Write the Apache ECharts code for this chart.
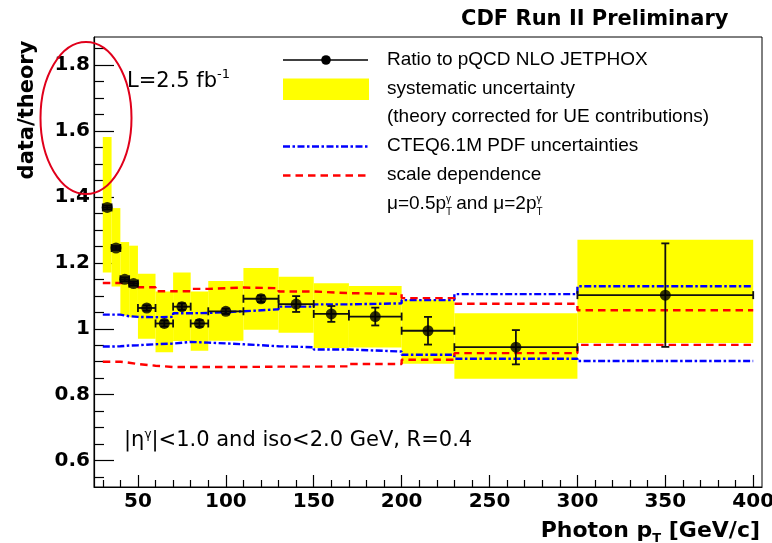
<!DOCTYPE html>
<html>
<head>
<meta charset="utf-8">
<script src="https://cdn.jsdelivr.net/npm/echarts@6.0.0/dist/echarts.min.js"></script>
<style>
  html, body { margin: 0; padding: 0; background: #fff; }
  #chart { width: 772px; height: 543px; }
</style>
</head>
<body>
<div id="chart"></div>
<script>
// Photon pT bins [GeV/c]
const binLo = [30, 35, 40, 45, 50, 60, 70, 80, 90, 110, 130, 150, 170, 200, 230, 300];
const binHi = [35, 40, 45, 50, 60, 70, 80, 90, 110, 130, 150, 170, 200, 230, 300, 400];

// data / theory ratio and its statistical uncertainty
const ratio   = [1.368, 1.245, 1.150, 1.137, 1.063, 1.016, 1.067, 1.016, 1.053, 1.091, 1.075, 1.045, 1.037, 0.994, 0.944, 1.102];
const statErr = [0.006, 0.006, 0.006, 0.006, 0.008, 0.009, 0.010, 0.010, 0.008, 0.010, 0.024, 0.024, 0.027, 0.042, 0.052, 0.157];

// systematic uncertainty band (lower / upper edge)
const sysLo = [1.171, 1.128, 1.040, 1.035, 0.970, 0.929, 0.963, 0.933, 0.964, 0.997, 0.988, 0.942, 0.943, 0.894, 0.848, 0.957];
const sysHi = [1.582, 1.366, 1.263, 1.252, 1.167, 1.113, 1.171, 1.113, 1.145, 1.184, 1.158, 1.138, 1.130, 1.088, 1.047, 1.270];

// CTEQ6.1M PDF uncertainty envelope
const pdfHi = [1.043, 1.043, 1.038, 1.036, 1.035, 1.036, 1.047, 1.048, 1.053, 1.059, 1.067, 1.074, 1.077, 1.087, 1.105, 1.129];
const pdfLo = [0.946, 0.947, 0.949, 0.950, 0.953, 0.955, 0.960, 0.958, 0.953, 0.947, 0.944, 0.937, 0.931, 0.921, 0.909, 0.902];

// scale dependence (mu = 0.5 pT and mu = 2 pT)
const scaleHi = [1.139, 1.139, 1.139, 1.137, 1.126, 1.114, 1.114, 1.121, 1.125, 1.123, 1.113, 1.108, 1.106, 1.093, 1.076, 1.056];
const scaleLo = [0.900, 0.900, 0.897, 0.893, 0.888, 0.884, 0.884, 0.884, 0.884, 0.885, 0.885, 0.886, 0.893, 0.906, 0.926, 0.951];

// axis ticks
const xMajor = [50, 100, 150, 200, 250, 300, 350, 400];
const xMinor = [30, 40, 60, 70, 80, 90, 110, 120, 130, 140, 160, 170, 180, 190, 210, 220, 230, 240,
                260, 270, 280, 290, 310, 320, 330, 340, 360, 370, 380, 390];
const yMajor = [0.6, 0.8, 1.0, 1.2, 1.4, 1.6, 1.8];
const yMinor = [0.55, 0.65, 0.7, 0.75, 0.85, 0.9, 0.95, 1.05, 1.1, 1.15, 1.25, 1.3, 1.35,
                1.45, 1.5, 1.55, 1.65, 1.7, 1.75, 1.85];

const WIDE = '"DejaVu Sans"';
const SANS = '"Liberation Sans", Arial, sans-serif';
const mctx = document.createElement('canvas').getContext('2d');
function textWidth(t, size, weight, family) {
  mctx.font = `${weight || 'normal'} ${size}px ${family}`;
  return mctx.measureText(t).width;
}
// lays out a run of text pieces (with sub/superscripts) on a common baseline
function textRun(x, baseline, pieces, opts) {
  opts = opts || {};
  const family = opts.family || WIDE;
  let cx = 0;
  const kids = [];
  pieces.forEach(p => {
    const w = textWidth(p.t, p.size, p.weight, family);
    kids.push({
      type: 'text', x: cx, y: -(p.rise || 0) - 0.35 * p.size,
      style: {
        text: p.t, font: `${p.weight || 'normal'} ${p.size}px ${family}`,
        fill: '#000', textAlign: 'left', textVerticalAlign: 'middle'
      }
    });
    if (!p.stack) cx += w;
  });
  return { type: 'group', x: opts.align === 'right' ? x - cx : x, y: baseline, children: kids, silent: true };
}

// step outline through bin edges
function stepData(vals) {
  const d = binLo.map((x, i) => [x, vals[i]]);
  d.push([binHi[binHi.length - 1], vals[vals.length - 1]]);
  return d;
}

const LEG = 19;
const LEGF = { family: SANS };
const DASH_DOT = [7, 2.5, 2.5, 2.5];
const DASHED = [7.5, 5];
const tickLabel = { color: '#000', fontFamily: WIDE, fontWeight: 'bold', fontSize: 20 };

const option = {
  animation: false,
  backgroundColor: '#fff',
  grid: {
    left: 94, right: 10, top: 37, bottom: 56,
    show: true, borderColor: '#000', borderWidth: 1,
    containLabel: false, outerBoundsMode: 'none'
  },
  xAxis: [
    {
      type: 'value', min: 25, max: 405, position: 'bottom',
      axisLine: { show: true, onZero: false, lineStyle: { color: '#000', width: 1.2 } },
      axisTick: { show: true, inside: true, length: 12, customValues: xMajor, lineStyle: { color: '#000', width: 1.2 } },
      axisLabel: Object.assign({ customValues: xMajor, margin: 5, formatter: v => String(Math.round(v)) }, tickLabel),
      splitLine: { show: false }
    },
    {
      type: 'value', min: 25, max: 405, position: 'bottom',
      axisLine: { show: false },
      axisTick: { show: true, inside: true, length: 7, customValues: xMinor, lineStyle: { color: '#000', width: 1.2 } },
      axisLabel: { show: false },
      splitLine: { show: false }
    }
  ],
  yAxis: [
    {
      type: 'value', min: 0.52, max: 1.885, position: 'left',
      axisLine: { show: true, onZero: false, lineStyle: { color: '#000', width: 1.2 } },
      axisTick: { show: true, inside: true, length: 20, customValues: yMajor, lineStyle: { color: '#000', width: 1.2 } },
      axisLabel: Object.assign({ customValues: yMajor, margin: 4, formatter: v => String(Math.round(v * 10) / 10) }, tickLabel),
      splitLine: { show: false }
    },
    {
      type: 'value', min: 0.52, max: 1.885, position: 'left',
      axisLine: { show: false },
      axisTick: { show: true, inside: true, length: 10, customValues: yMinor, lineStyle: { color: '#000', width: 1.2 } },
      axisLabel: { show: false },
      splitLine: { show: false }
    }
  ],
  series: [
    {
      name: 'systematic uncertainty',
      type: 'custom', z: 1,
      data: binLo.map((lo, i) => [lo, binHi[i], sysLo[i], sysHi[i]]),
      encode: { x: [0, 1], y: [2, 3] },
      renderItem: (params, api) => {
        const a = api.coord([api.value(0), api.value(3)]);
        const b = api.coord([api.value(1), api.value(2)]);
        return { type: 'rect', shape: { x: a[0], y: a[1], width: b[0] - a[0], height: b[1] - a[1] }, style: { fill: '#ffff00' } };
      }
    },
    {
      name: 'CTEQ6.1M PDF uncertainties', type: 'line', step: 'end', z: 3, symbol: 'none',
      data: stepData(pdfHi),
      lineStyle: { color: '#0000ff', width: 2.4, type: DASH_DOT, cap: 'butt' }
    },
    {
      name: 'CTEQ6.1M PDF uncertainties', type: 'line', step: 'end', z: 3, symbol: 'none',
      data: stepData(pdfLo),
      lineStyle: { color: '#0000ff', width: 2.4, type: DASH_DOT, cap: 'butt' }
    },
    {
      name: 'scale dependence', type: 'line', step: 'end', z: 3, symbol: 'none',
      data: stepData(scaleHi),
      lineStyle: { color: '#ff0000', width: 2.4, type: DASHED, cap: 'butt' }
    },
    {
      name: 'scale dependence', type: 'line', step: 'end', z: 3, symbol: 'none',
      data: stepData(scaleLo),
      lineStyle: { color: '#ff0000', width: 2.4, type: DASHED, cap: 'butt' }
    },
    {
      name: 'error bars', type: 'custom', z: 5,
      data: binLo.map((lo, i) => [(lo + binHi[i]) / 2, ratio[i], lo, binHi[i], statErr[i]]),
      encode: { x: 0, y: 1 },
      renderItem: (params, api) => {
        const x = api.value(0), y = api.value(1), e = api.value(4);
        const pl = api.coord([api.value(2), y]), pr = api.coord([api.value(3), y]);
        const pt = api.coord([x, y + e]), pb = api.coord([x, y - e]);
        const st = { stroke: '#111', lineWidth: 1.8 };
        const c = 4;
        const seg = (x1, y1, x2, y2) => ({ type: 'line', shape: { x1, y1, x2, y2 }, style: st });
        return {
          type: 'group',
          children: [
            seg(pl[0], pl[1], pr[0], pr[1]),
            seg(pl[0], pl[1] - c, pl[0], pl[1] + c),
            seg(pr[0], pr[1] - c, pr[0], pr[1] + c),
            seg(pt[0], pt[1], pb[0], pb[1]),
            seg(pt[0] - c, pt[1], pt[0] + c, pt[1]),
            seg(pb[0] - c, pb[1], pb[0] + c, pb[1])
          ]
        };
      }
    },
    {
      name: 'Ratio to pQCD NLO JETPHOX', type: 'scatter', z: 6,
      symbol: 'circle', symbolSize: 11,
      itemStyle: { color: '#000' },
      data: binLo.map((lo, i) => [(lo + binHi[i]) / 2, ratio[i]])
    }
  ],
  graphic: [
    // header
    textRun(461, 27, [{ t: 'CDF Run II Preliminary', size: 21, weight: 'bold' }]),
    // axis titles
    {
      type: 'text', x: 28, y: 110, rotation: Math.PI / 2, silent: true,
      style: { text: 'data/theory', font: `bold 21px ${WIDE}`, fill: '#000', textAlign: 'center', textVerticalAlign: 'middle' }
    },
    textRun(760, 538.5, [
      { t: 'Photon p', size: 22, weight: 'bold' },
      { t: 'T', size: 13, weight: 'bold', rise: -5 },
      { t: ' [GeV/c]', size: 22, weight: 'bold' }
    ], { align: 'right' }),
    // annotations
    textRun(127, 89, [
      { t: 'L=2.5 fb', size: 21 },
      { t: '-1', size: 13, rise: 10 }
    ]),
    textRun(124, 448, [
      { t: '|η', size: 21 },
      { t: 'γ', size: 12, rise: 9 },
      { t: '|<1.0 and iso<2.0 GeV, R=0.4', size: 21 }
    ]),
    // legend
    { type: 'line', shape: { x1: 283, y1: 60, x2: 368, y2: 60 }, style: { stroke: '#000', lineWidth: 1.6 }, silent: true },
    { type: 'circle', shape: { cx: 326, cy: 60, r: 4.8 }, style: { fill: '#000' }, silent: true },
    { type: 'rect', shape: { x: 283, y: 78.5, width: 86, height: 21.5 }, style: { fill: '#ffff00' }, silent: true },
    { type: 'line', shape: { x1: 283, y1: 146.5, x2: 368, y2: 146.5 }, style: { stroke: '#0000ff', lineWidth: 2.4, lineDash: DASH_DOT }, silent: true },
    { type: 'line', shape: { x1: 283, y1: 175.5, x2: 368, y2: 175.5 }, style: { stroke: '#ff0000', lineWidth: 2.4, lineDash: DASHED }, silent: true },
    textRun(387, 66.5, [{ t: 'Ratio to pQCD NLO JETPHOX', size: LEG }], LEGF),
    textRun(387, 95, [{ t: 'systematic uncertainty', size: LEG }], LEGF),
    textRun(387, 123.5, [{ t: '(theory corrected for UE contributions)', size: LEG }], LEGF),
    textRun(387, 152.5, [{ t: 'CTEQ6.1M PDF uncertainties', size: LEG }], LEGF),
    textRun(387, 181.5, [{ t: 'scale dependence', size: LEG }], LEGF),
    textRun(387, 210.5, [
      { t: 'μ=0.5p', size: LEG },
      { t: 'T', size: 10, rise: -5, stack: true },
      { t: 'γ', size: 10, rise: 8 },
      { t: ' and μ=2p', size: LEG },
      { t: 'T', size: 10, rise: -5, stack: true },
      { t: 'γ', size: 10, rise: 8 }
    ], LEGF),
    // highlight ring around the upper y-axis labels
    {
      type: 'ellipse', silent: true, z: 10,
      shape: { cx: 86, cy: 118, rx: 45.5, ry: 76 },
      style: { fill: 'none', stroke: '#e0001b', lineWidth: 2 }
    }
  ]
};

const chart = echarts.init(document.getElementById('chart'), null, { renderer: 'canvas' });
chart.setOption(option);
</script>
</body>
</html>
